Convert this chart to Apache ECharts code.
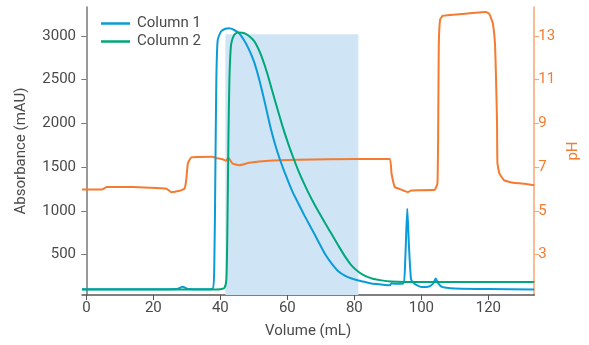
<!DOCTYPE html>
<html>
<head>
<meta charset="utf-8">
<script src="https://cdn.jsdelivr.net/npm/echarts@6/dist/echarts.min.js"></script>
<style>html,body{margin:0;padding:0;background:#fff}#c{width:589px;height:345px}</style>
</head>
<body>
<div id="c"></div>
<script>
// Column 1 (blue) absorbance, [volume mL, mAU]
const column1 = [
  [-1.3,106],[10,106],[20,106],[27,108],[28.8,135],[30,112],[35,106],[37.7,110],
  [38.2,400],[38.5,1400],[38.8,2500],[39.2,2950],[40.2,3050],[41.5,3082],[42.6,3088],
  [44,3070],[45.6,3030],[47,2955],[48.6,2840],[50.1,2700],[51.3,2545],[52.5,2365],
  [53.8,2150],[55,1950],[56.5,1740],[58,1565],[59.2,1440],[60.4,1325],[61.6,1215],
  [62.9,1115],[65,955],[67.4,786],[69.4,640],[71.3,505],[73.3,395],[75.3,308],
  [77.3,258],[79.2,228],[81.2,205],[83.2,189],[85.1,171],[88,160],[90.6,151],
  [91.1,175],[92,168],[94.6,170],[95.2,450],[95.8,1025],[96.3,600],[96.9,225],
  [97.5,185],[98.5,155],[100,132],[102,134],[103.5,170],[104.3,228],[105,175],
  [106,135],[107,125],[110,114],[120,108],[133.7,102]
];
// Column 2 (green) absorbance, [volume mL, mAU]
const column2 = [
  [-1.3,104],[20,104],[38,104],[40,106],[41.2,120],[41.8,220],[42.1,800],
  [42.4,1800],[42.7,2500],[43.2,2900],[44.1,3010],[45.1,3040],[46.5,3035],
  [47.6,3023],[49,2985],[50.1,2940],[51.2,2865],[52.3,2765],[53.9,2585],[55.5,2370],
  [57,2170],[58.5,1975],[60.2,1775],[62,1585],[63.4,1450],[64.9,1320],[66.2,1215],
  [67.4,1125],[69.4,985],[71.3,860],[73.3,730],[75.3,600],[77.3,475],[79.2,375],
  [81.2,305],[83.2,258],[85.5,226],[88.1,207],[91,194],[95,189],[133.7,189]
];
// pH trace (orange), [volume mL, pH]
const phTrace = [
  [-1.3,5.98],[4.6,5.98],[6.1,6.09],[13.9,6.09],[23.9,6.02],[25.3,5.86],[27.8,5.92],
  [29.3,6.02],[29.8,6.4],[30.3,7.17],[31.3,7.45],[37.7,7.48],[38.7,7.42],[40.7,7.36],
  [41.7,7.29],[42.4,7.43],[43.6,7.17],[45.6,7.09],[48.6,7.2],[54.5,7.3],[63.4,7.34],
  [81.2,7.38],[90.6,7.38],[91.1,6.71],[92.1,6.09],[94.1,5.97],[96,5.86],[97,5.94],
  [104,5.97],[104.8,6.25],[105,8.2],[105.2,12.5],[105.6,13.75],[106.4,13.92],
  [111.9,14.0],[119.3,14.09],[120.3,14.0],[121.3,13.6],[122.0,12.6],[122.3,11.0],
  [122.6,9.0],[122.7,7.2],[123.3,6.71],[124.7,6.4],[127,6.3],[131.7,6.22],[133.7,6.18]
];
// Shaded collection window: [start mL, end mL, top mAU]
const shadeRange = [41.5, 81.2, 3020];
const xTicks = [0, 20, 40, 60, 80, 100, 120];
const absTicks = [500, 1000, 1500, 2000, 2500, 3000];
const phTicks = [3, 5, 7, 9, 11, 13];
const seriesNames = ['Column 1', 'Column 2', 'pH'];

const FONT = 'Roboto';
const GREY = '#4a4a4a';
const BLUE = '#0a9bd9';
const GREEN = '#00a77a';
const ORANGE = '#f47b2f';
const plain = v => String(v);

const chart = echarts.init(document.getElementById('c'), null, {renderer: 'canvas'});
chart.setOption({
  animation: false,
  textStyle: {fontFamily: FONT},
  grid: {left: 82, right: 52, top: 7, bottom: 50},
  legend: {
    data: [seriesNames[0], seriesNames[1]],
    orient: 'vertical', left: 96, top: 11,
    itemWidth: 29, itemHeight: 2.5, itemGap: 3, icon: 'rect',
    textStyle: {fontFamily: FONT, fontSize: 15, color: GREY, padding: [0, 0, 0, 2]}
  },
  xAxis: {
    type: 'value', min: -1.3, max: 133.7,
    name: 'Volume (mL)', nameLocation: 'middle', nameGap: 29,
    nameTextStyle: {fontFamily: FONT, fontSize: 15, color: GREY},
    axisLine: {lineStyle: {color: '#555', width: 1.5}},
    axisTick: {show: true, length: 5, lineStyle: {color: '#555'}, customValues: xTicks},
    axisLabel: {fontFamily: FONT, fontSize: 15, color: GREY, margin: 6, customValues: xTicks, formatter: plain},
    splitLine: {show: false}
  },
  yAxis: [{
    type: 'value', min: 40, max: 3330, position: 'left',
    name: 'Absorbance (mAU)', nameLocation: 'middle', nameGap: 53,
    nameTextStyle: {fontFamily: FONT, fontSize: 15, color: GREY},
    axisLine: {show: true, lineStyle: {color: '#777', width: 1.5}},
    axisTick: {show: true, length: 5, lineStyle: {color: '#777'}, customValues: absTicks},
    axisLabel: {fontFamily: FONT, fontSize: 15, color: GREY, margin: 6, customValues: absTicks, formatter: plain},
    splitLine: {show: false}
  }, {
    type: 'value', min: 1.16, max: 14.32, position: 'right',
    name: 'pH', nameLocation: 'middle', nameGap: 26,
    nameTextStyle: {fontFamily: FONT, fontSize: 15, color: ORANGE},
    axisLine: {show: true, lineStyle: {color: '#f8a56e', width: 1.5}},
    axisTick: {show: true, length: 5, lineStyle: {color: '#f8a56e'}, customValues: phTicks},
    axisLabel: {fontFamily: FONT, fontSize: 15, color: ORANGE, margin: 4, customValues: phTicks, formatter: plain},
    splitLine: {show: false}
  }],
  series: [{
    name: seriesNames[2], type: 'line', yAxisIndex: 1, data: phTrace,
    showSymbol: false, smooth: 0.1,
    lineStyle: {color: ORANGE, width: 2}, itemStyle: {color: ORANGE},
    z: 2,
    markArea: {
      silent: true,
      itemStyle: {color: '#cfe4f4'},
      data: [[{coord: [shadeRange[0], 1.16]}, {coord: [shadeRange[1], 1.16 + (shadeRange[2] - 40) / 250 ]}]]
    }
  }, {
    name: seriesNames[0], type: 'line', data: column1,
    showSymbol: false, smooth: 0.2,
    lineStyle: {color: BLUE, width: 2}, itemStyle: {color: BLUE}, z: 3
  }, {
    name: seriesNames[1], type: 'line', data: column2,
    showSymbol: false, smooth: 0.2,
    lineStyle: {color: GREEN, width: 2}, itemStyle: {color: GREEN}, z: 4
  }]
});
</script>
</body>
</html>
